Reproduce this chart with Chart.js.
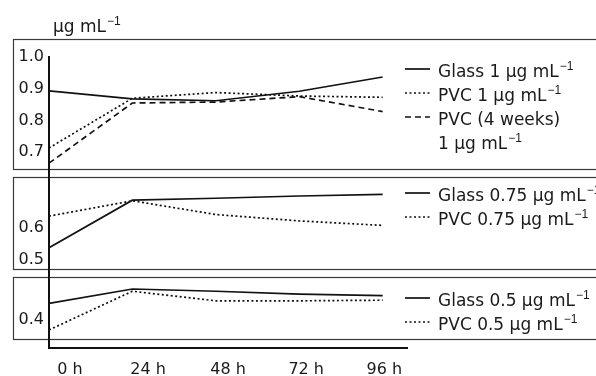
<!DOCTYPE html>
<html>
<head>
<meta charset="utf-8">
<title>Concentration over time</title>
<script src="https://cdn.jsdelivr.net/npm/chart.js@4.4.1/dist/chart.umd.min.js"></script>
<style>
  body { margin: 0; background: #fff; }
  #wrap { width: 596px; height: 376px; }
</style>
</head>
<body>
<div id="wrap"><canvas id="chart" width="596" height="376"></canvas></div>
<script>
// time points (h) and where the tick labels sit on the hour scale
const hours = [0, 24, 48, 72, 96];
const tickHours = [6, 28.5, 51.5, 74, 96.5];
const tickLabels = ['0 h', '24 h', '48 h', '72 h', '96 h'];

// y ticks per panel
const topTicks = [1.0, 0.9, 0.8, 0.7];
const midTicks = [0.6, 0.5];
const lowTicks = [0.4];

// series (ug/mL)
const glass1 = [0.893, 0.868, 0.862, 0.892, 0.937];
const pvc1 = [0.713, 0.870, 0.888, 0.877, 0.873];
const pvc1Aged = [0.665, 0.855, 0.858, 0.875, 0.828];
const glass075 = [0.538, 0.687, 0.693, 0.700, 0.705];
const pvc075 = [0.637, 0.685, 0.642, 0.622, 0.608];
const glass05 = [0.452, 0.497, 0.490, 0.481, 0.476];
const pvc05 = [0.369, 0.490, 0.460, 0.460, 0.462];

const INK = '#111';
const FONT = 'DejaVu Sans';
const DOT = [2, 2.5];
const DASH = [6, 4];

function series(label, values, axis, dash) {
    return {
        label: label,
        data: values.map((v, i) => ({ x: hours[i], y: v })),
        yAxisID: axis,
        borderColor: INK,
        borderWidth: 1.7,
        borderDash: dash || [],
        pointRadius: 0,
        tension: 0,
        fill: false
    };
}

// legend rows per panel; '^' starts a superscript, '|' breaks a line
const legends = {
    yTop: { first: 30, rows: [['Glass 1 μg mL^−1', null], ['PVC 1 μg mL^−1', DOT], ['PVC (4 weeks)|1 μg mL^−1', DASH]] },
    yMid: { first: 16, rows: [['Glass 0.75 μg mL^−1', null], ['PVC 0.75 μg mL^−1', DOT]] },
    yLow: { first: 21, rows: [['Glass 0.5 μg mL^−1', null], ['PVC 0.5 μg mL^−1', DOT]] }
};

// boxes around each panel (inset from the stacked axis edges)
const boxInsets = { yTop: [0, 4], yMid: [4, 4], yLow: [4, 9] };

function drawRich(ctx, text, x, y) {
    const parts = text.split('^');
    ctx.font = '17px "' + FONT + '"';
    ctx.fillText(parts[0], x, y);
    if (parts[1]) {
        const w = ctx.measureText(parts[0]).width;
        ctx.font = '12px "Liberation Sans"';
        ctx.fillText(parts[1], x + w + 1, y - 7);
    }
}

const panelPlugin = {
    id: 'panels',
    beforeDatasetsDraw(chart) {
        const ctx = chart.ctx;
        const area = chart.chartArea;
        ctx.save();
        ctx.strokeStyle = '#3a3a3a';
        ctx.lineWidth = 1.2;
        Object.keys(boxInsets).forEach(id => {
            const s = chart.scales[id];
            const top = s.top + boxInsets[id][0];
            const bottom = s.bottom - boxInsets[id][1];
            ctx.strokeRect(13.5, top + 0.5, 600, bottom - top);
        });
        // shared vertical axis line
        ctx.strokeStyle = INK;
        ctx.lineWidth = 2;
        ctx.beginPath();
        ctx.moveTo(area.left, chart.scales.yTop.getPixelForValue(1.0) - 1);
        ctx.lineTo(area.left, area.bottom);
        ctx.stroke();
        ctx.restore();
    },
    afterDraw(chart) {
        const ctx = chart.ctx;
        const area = chart.chartArea;
        ctx.save();
        ctx.fillStyle = '#1a1a1a';
        ctx.textBaseline = 'alphabetic';
        // unit title
        drawRich(ctx, 'μg mL^−1', 53, 32);
        // legends
        Object.keys(legends).forEach(id => {
            const s = chart.scales[id];
            const boxTop = s.top + boxInsets[id][0];
            let y = boxTop + legends[id].first;
            legends[id].rows.forEach(([text, dash]) => {
                ctx.strokeStyle = INK;
                ctx.lineWidth = 1.7;
                ctx.setLineDash(dash || []);
                ctx.beginPath();
                ctx.moveTo(area.right - 2, y);
                ctx.lineTo(area.right + 23, y);
                ctx.stroke();
                ctx.setLineDash([]);
                text.split('|').forEach(line => {
                    drawRich(ctx, line, area.right + 31, y + 8);
                    y += 24;
                });
            });
        });
        ctx.restore();
    }
};

function yAxis(ticks, min, max, weight) {
    return {
        type: 'linear',
        position: 'left',
        stack: 'panels',
        stackWeight: weight,
        min: min,
        max: max,
        grid: { display: false, drawTicks: false },
        border: { display: false },
        afterBuildTicks: axis => { axis.ticks = ticks.map(v => ({ value: v })); },
        afterFit: axis => { axis.width = 36; },
        ticks: {
            color: '#1a1a1a',
            padding: 5,
            font: { family: FONT, size: 16 },
            callback: v => v.toFixed(1)
        }
    };
}

new Chart(document.getElementById('chart'), {
    type: 'line',
    data: {
        datasets: [
            series('Glass 1 μg mL⁻¹', glass1, 'yTop'),
            series('PVC 1 μg mL⁻¹', pvc1, 'yTop', DOT),
            series('PVC (4 weeks) 1 μg mL⁻¹', pvc1Aged, 'yTop', DASH),
            series('Glass 0.75 μg mL⁻¹', glass075, 'yMid'),
            series('PVC 0.75 μg mL⁻¹', pvc075, 'yMid', DOT),
            series('Glass 0.5 μg mL⁻¹', glass05, 'yLow'),
            series('PVC 0.5 μg mL⁻¹', pvc05, 'yLow', DOT)
        ]
    },
    options: {
        responsive: false,
        animation: false,
        layout: { padding: { top: 39, left: 13, right: 189, bottom: 0 } },
        plugins: { legend: { display: false }, tooltip: { enabled: false } },
        scales: {
            x: {
                type: 'linear',
                position: 'bottom',
                min: 0,
                max: 103,
                grid: { display: false, drawTicks: false },
                border: { color: INK, width: 2 },
                afterBuildTicks: axis => { axis.ticks = tickHours.map(v => ({ value: v })); },
                afterFit: axis => { axis.height = 28; },
                ticks: {
                    color: '#1a1a1a',
                    padding: 12,
                    autoSkip: false,
                    maxRotation: 0,
                    font: { family: FONT, size: 16 },
                    callback: (v, i) => tickLabels[i]
                }
            },
            yLow: yAxis(lowTicks, 0.3125, 0.547, 75),
            yMid: yAxis(midTicks, 0.459, 0.772, 100),
            yTop: yAxis(topTicks, 0.634, 1.057, 134)
        }
    },
    plugins: [panelPlugin]
});
</script>
</body>
</html>
